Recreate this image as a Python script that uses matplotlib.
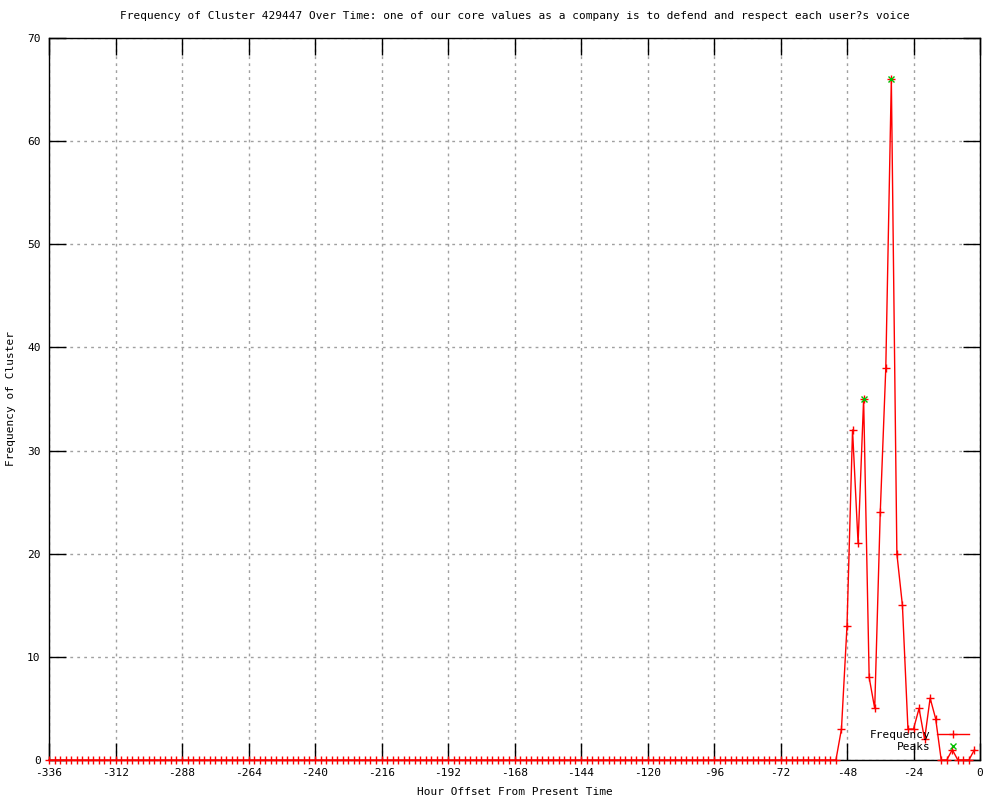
import matplotlib
matplotlib.use("Agg")
import matplotlib.pyplot as plt
import numpy as np

# hours sampled every 2 hours, -336 .. -2
hours = np.arange(-336, 0, 2)
# non-zero frequencies near the end (everything earlier is 0)
tail_hours = [-50, -48, -46, -44, -42, -40, -38, -36, -34, -32, -30, -28,
              -26, -24, -22, -20, -18, -16, -14, -12, -10, -8, -6, -4, -2]
tail_freq = [3, 13, 32, 21, 35, 8, 5, 24, 38, 66, 20, 15,
             3, 3, 5, 2, 6, 4, 0, 0, 1, 0, 0, 0, 1]
freq = np.zeros(len(hours))
for h, f in zip(tail_hours, tail_freq):
    freq[hours == h] = f

peak_hours = [-42, -32]
peak_freq = [35, 66]

plt.rcParams['font.family'] = 'DejaVu Sans Mono'
plt.rcParams['axes.unicode_minus'] = False
fig = plt.figure(figsize=(10, 8), dpi=100)
ax = fig.add_axes([0.049, 0.05, 0.931, 0.9025])

ax.plot(hours, freq, color="red", lw=1, marker="+", markersize=5.5,
        markeredgewidth=1, clip_on=False, label="Frequency", zorder=3)
ax.plot(peak_hours, peak_freq, linestyle="none", color="#00c000", marker="x",
        markersize=5, markeredgewidth=1, clip_on=False, label="Peaks", zorder=4)

ax.set_xlim(-336, 0)
ax.set_ylim(0, 70)
ax.set_xticks(np.arange(-336, 1, 24))
ax.set_yticks(np.arange(0, 71, 10))
ax.tick_params(direction="in", length=12, width=1, top=True, right=True,
               labelsize=8, pad=6)
ax.grid(True, linestyle=(0, (2, 3)), color="#a0a0a0", lw=1)
for s in ax.spines.values():
    s.set_linewidth(1)

ax.set_title("Frequency of Cluster 429447 Over Time: one of our core values as a company is to defend and respect each user?s voice",
             fontsize=8, pad=14)
ax.set_xlabel("Hour Offset From Present Time", fontsize=8, labelpad=6)
ax.set_ylabel("Frequency of Cluster", fontsize=8, labelpad=8)

ax.legend(loc="lower right", bbox_to_anchor=(0.997, 0.0), frameon=False,
          markerfirst=False, fontsize=8, handlelength=2.9, handletextpad=0.6,
          labelspacing=0.2, borderaxespad=0.3)

fig.savefig("out.png", dpi=100)
